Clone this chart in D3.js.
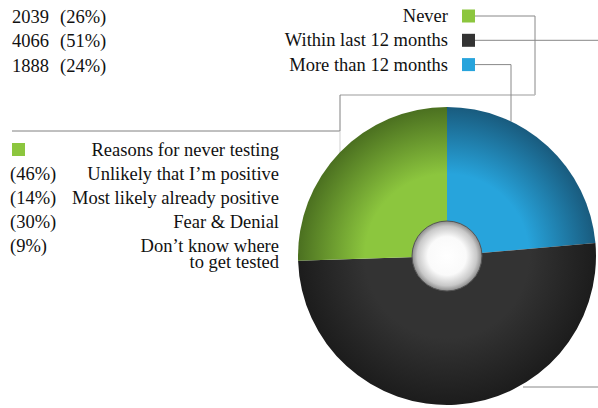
<!DOCTYPE html>
<html>
<head>
<meta charset="UTF-8">
<script src="https://d3js.org/d3.v7.min.js"></script>
</head>
<body style="margin:0">
<svg id="chart" width="598" height="408" style="display:block"></svg>
<script>
    // data
    var categories = ["Never", "Within last 12 months", "More than 12 months"];
    var counts = [2039, 4066, 1888];
    var percents = [26, 51, 24];
    var colors = ["#8cc63e", "#333333", "#27a4dc"];
    var edgeColors = ["#4b7020", "#1c1c1c", "#195b7e"];

    var reasonTitle = "Reasons for never testing";
    var reasons = ["Unlikely that I\u2019m positive", "Most likely already positive", "Fear & Denial", "Don\u2019t know where|to get tested"];
    var reasonPercents = [46, 14, 30, 9];

    // pie is drawn starting at 12 o'clock: blue, dark, green
    var pieOrder = [2, 1, 0];

    var svg = d3.select("#chart");
    var cx = 447, cy = 256, r = 149, hole = 35;

    var defs = svg.append("defs");
    colors.forEach(function(c, i) {
        var g = defs.append("radialGradient")
            .attr("id", "grad" + i)
            .attr("gradientUnits", "userSpaceOnUse")
            .attr("cx", 0).attr("cy", 0).attr("r", r);
        g.append("stop").attr("offset", "0%").attr("stop-color", c);
        g.append("stop").attr("offset", "55%").attr("stop-color", c);
        g.append("stop").attr("offset", "100%").attr("stop-color", edgeColors[i]);
    });
    var hg = defs.append("radialGradient").attr("id", "holeGrad")
        .attr("cx", "50%").attr("cy", "50%").attr("r", "50%");
    hg.append("stop").attr("offset", "0%").attr("stop-color", "#ffffff");
    hg.append("stop").attr("offset", "55%").attr("stop-color", "#fafafa");
    hg.append("stop").attr("offset", "85%").attr("stop-color", "#c8c8c8");
    hg.append("stop").attr("offset", "100%").attr("stop-color", "#8a8a8a");

    // leader lines (behind pie)
    var lines = svg.append("g").attr("fill", "none");
    var sqX = 462, sq = 13, rowY = function(i) { return 16 + 24.3 * i; };
    var edgeY = function(x) { return cy - Math.sqrt(r * r - (x - cx) * (x - cx)); };

    // Never
    lines.append("path").attr("stroke", "#888").attr("stroke-width", 1)
        .attr("d", "M" + (sqX + sq) + "," + rowY(0) + "H535V95");
    lines.append("path").attr("stroke", "#bdbdbd").attr("stroke-width", 1.5)
        .attr("d", "M535,95H340");
    lines.append("path").attr("stroke", "#808080").attr("stroke-width", 1)
        .attr("d", "M340,95V131H12");
    lines.append("path").attr("stroke", "#cfcfcf").attr("stroke-width", 1)
        .attr("d", "M340,131V" + edgeY(340));
    // Within last 12 months
    lines.append("path").attr("stroke", "#888").attr("stroke-width", 1)
        .attr("d", "M" + (sqX + sq) + "," + rowY(1) + "H598");
    lines.append("path").attr("stroke", "#888").attr("stroke-width", 1)
        .attr("d", "M523,387H598");
    // More than 12 months
    lines.append("path").attr("stroke", "#888").attr("stroke-width", 1)
        .attr("d", "M" + (sqX + sq) + "," + rowY(2) + "H511V" + edgeY(511));

    // pie
    var pie = d3.pie().sort(null).value(function(i) { return counts[i]; });
    var arc = d3.arc().innerRadius(0).outerRadius(r);
    svg.append("g").attr("transform", "translate(" + cx + "," + cy + ")")
        .selectAll("path")
        .data(pie(pieOrder))
        .enter().append("path")
        .attr("d", arc)
        .attr("fill", function(d) { return "url(#grad" + d.data + ")"; });

    svg.append("circle")
        .attr("cx", cx).attr("cy", cy).attr("r", hole)
        .attr("fill", "url(#holeGrad)")
        .attr("stroke", "#555").attr("stroke-width", 1);

    function label(x, y, anchor, t) {
        return svg.append("text")
            .attr("x", x).attr("y", y)
            .attr("text-anchor", anchor)
            .attr("font-size", 18.5)
            .style("font-family", "Liberation Serif")
            .attr("fill", "#111")
            .text(t);
    }

    // top-right legend
    categories.forEach(function(c, i) {
        svg.append("rect")
            .attr("x", sqX).attr("y", rowY(i) - 6.5)
            .attr("width", sq).attr("height", sq)
            .attr("fill", colors[i]);
        label(448, rowY(i) + 6, "end", c);
    });

    // top-left counts
    counts.forEach(function(v, i) {
        label(12, rowY(i) + 7, "start", v);
        label(60, rowY(i) + 7, "start", "(" + percents[i] + "%)");
    });

    // reasons block
    svg.append("rect").attr("x", 12).attr("y", 143)
        .attr("width", sq).attr("height", sq).attr("fill", colors[0]);
    label(279, 156, "end", reasonTitle);
    reasons.forEach(function(t, i) {
        var y = 180 + 24 * i;
        label(10, y, "start", "(" + reasonPercents[i] + "%)");
        var parts = t.split("|");
        var tx = label(279, y, "end", "");
        parts.forEach(function(p, j) {
            tx.append("tspan").attr("x", 279).attr("dy", j === 0 ? 0 : 15.5).text(p);
        });
    });
</script>
</body>
</html>
